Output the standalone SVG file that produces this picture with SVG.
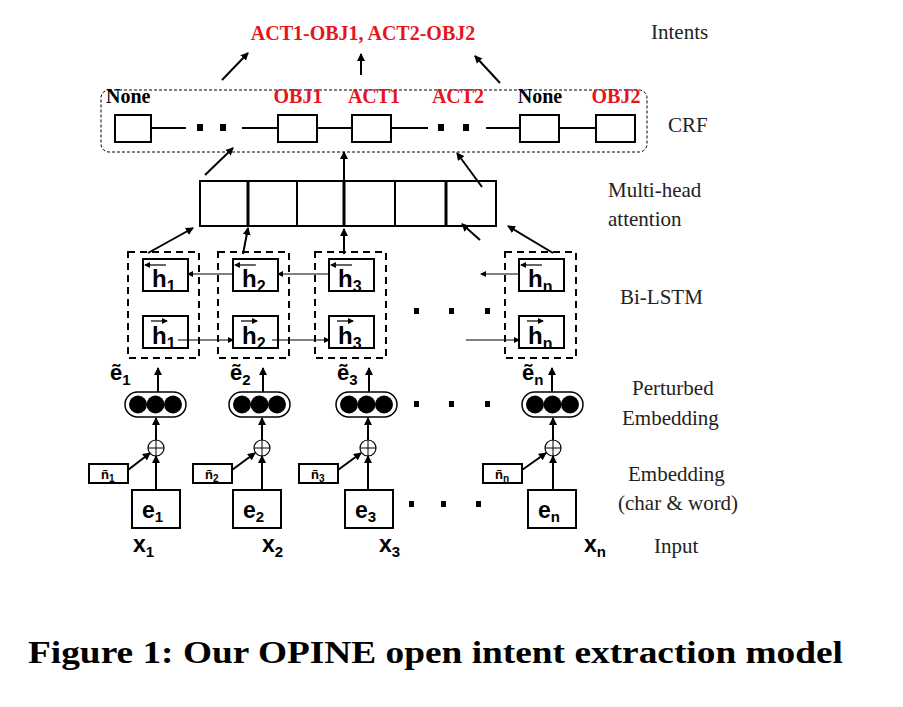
<svg xmlns="http://www.w3.org/2000/svg" width="903" height="707" viewBox="0 0 903 707">
<defs>
<marker id="a" markerWidth="8" markerHeight="8" refX="7" refY="4" orient="auto" markerUnits="userSpaceOnUse"><path d="M0,0 L8,4 L0,8 z" fill="#000"/></marker>
<marker id="s" markerWidth="6" markerHeight="6" refX="5" refY="3" orient="auto" markerUnits="userSpaceOnUse"><path d="M0,0 L6,3 L0,6 z" fill="#000"/></marker>
</defs>
<style>
.b{fill:#fff;stroke:#000;stroke-width:2}
.d{fill:none;stroke:#000;stroke-width:2;stroke-dasharray:7,5}
.l{stroke:#000;stroke-width:2;fill:none}
.ar{stroke:#000;stroke-width:2;fill:none;marker-end:url(#a)}
.th{stroke:#000;stroke-width:1.2;fill:none;marker-end:url(#s)}
.crf{font-family:"Liberation Serif",serif;font-weight:bold;font-size:20px}
.red{fill:#e8141c}
.sf{font-family:"Liberation Sans",Arial,sans-serif;font-weight:bold}
.lab{font-family:"Liberation Serif",serif;font-size:21px;fill:#222}
.dot{fill:#000}
</style>
<rect width="903" height="707" fill="#fff"/>
<g id="intents"><text class="crf red" x="363" y="40" text-anchor="middle">ACT1-OBJ1, ACT2-OBJ2</text></g>
<g id="crf">
<rect x="101" y="90" width="546" height="62" rx="8" fill="none" stroke="#000" stroke-width="1" stroke-dasharray="3,2"/>
<text class="crf" x="106" y="103">None</text>
<text class="crf red" x="298" y="103" text-anchor="middle">OBJ1</text>
<text class="crf red" x="374" y="103" text-anchor="middle">ACT1</text>
<text class="crf red" x="458" y="103" text-anchor="middle">ACT2</text>
<text class="crf" x="540" y="103" text-anchor="middle">None</text>
<text class="crf red" x="616" y="103" text-anchor="middle">OBJ2</text>
<path class="l" d="M151,128H186 M242,128H278 M317,128H352 M391,128H428 M486,128H520 M559,128H596"/>
<rect class="dot" x="197" y="124" width="6" height="7"/><rect class="dot" x="220" y="124" width="6" height="7"/>
<rect class="dot" x="438" y="124" width="6" height="7"/><rect class="dot" x="463" y="124" width="6" height="7"/>
<rect class="b" x="115" y="115" width="36" height="27"/>
<rect class="b" x="278" y="115" width="39" height="27"/>
<rect class="b" x="352" y="115" width="39" height="27"/>
<rect class="b" x="520" y="115" width="39" height="27"/>
<rect class="b" x="596" y="115" width="39" height="27"/>
</g>
<g id="attention">
<rect class="b" x="200" y="181" width="296" height="45"/>
<path class="l" d="M297,181V226 M395,181V226"/>
<path d="M248,181V226 M344,181V226 M446,181V226" stroke="#000" stroke-width="3"/>
</g>
<g id="bilstm">
<rect class="d" x="128" y="252" width="71" height="106"/>
<rect class="d" x="218" y="252" width="71" height="106"/>
<rect class="d" x="315" y="252" width="71" height="106"/>
<rect class="d" x="505" y="252" width="71" height="106"/>
<g class="sf" font-size="24">
<rect class="b" x="143" y="259" width="45" height="32"/><rect class="b" x="233" y="259" width="45" height="32"/><rect class="b" x="329" y="259" width="45" height="32"/><rect class="b" x="519" y="259" width="45" height="32"/>
<rect class="b" x="143" y="316" width="45" height="32"/><rect class="b" x="233" y="316" width="45" height="32"/><rect class="b" x="329" y="316" width="45" height="32"/><rect class="b" x="519" y="316" width="45" height="32"/>
<text x="152" y="287">h<tspan font-size="16" dy="5">1</tspan></text>
<text x="242" y="287">h<tspan font-size="16" dy="5">2</tspan></text>
<text x="338" y="287">h<tspan font-size="16" dy="5">3</tspan></text>
<text x="528" y="287">h<tspan font-size="16" dy="5">n</tspan></text>
<text x="152" y="344">h<tspan font-size="16" dy="5">1</tspan></text>
<text x="242" y="344">h<tspan font-size="16" dy="5">2</tspan></text>
<text x="338" y="344">h<tspan font-size="16" dy="5">3</tspan></text>
<text x="528" y="344">h<tspan font-size="16" dy="5">n</tspan></text>
</g>
<line class="th" x1="166" y1="265" x2="145" y2="265"/><line class="th" x1="256" y1="265" x2="235" y2="265"/><line class="th" x1="352" y1="265" x2="331" y2="265"/><line class="th" x1="542" y1="265" x2="521" y2="265"/>
<line class="th" x1="151" y1="321" x2="167" y2="321"/><line class="th" x1="241" y1="321" x2="257" y2="321"/><line class="th" x1="337" y1="321" x2="353" y2="321"/><line class="th" x1="527" y1="321" x2="543" y2="321"/>
<rect class="dot" x="414" y="308" width="5" height="6"/><rect class="dot" x="449" y="308" width="5" height="6"/><rect class="dot" x="485" y="308" width="5" height="6"/>
</g>
<g id="embeddings">
<g class="sf" font-size="22">
<text x="110" y="380">ẽ<tspan font-size="15" dy="5">1</tspan></text>
<text x="230" y="380">ẽ<tspan font-size="15" dy="5">2</tspan></text>
<text x="337" y="380">ẽ<tspan font-size="15" dy="5">3</tspan></text>
<text x="522" y="380">ẽ<tspan font-size="15" dy="5">n</tspan></text>
</g>
<g fill="#000">
<rect x="125" y="392" width="61" height="25" rx="12.5" fill="none" stroke="#000" stroke-width="1.5"/>
<circle cx="138" cy="404.5" r="9"/><circle cx="155.5" cy="404.5" r="9"/><circle cx="173" cy="404.5" r="9"/>
<rect x="229" y="392" width="61" height="25" rx="12.5" fill="none" stroke="#000" stroke-width="1.5"/>
<circle cx="242" cy="404.5" r="9"/><circle cx="259.5" cy="404.5" r="9"/><circle cx="277" cy="404.5" r="9"/>
<rect x="336" y="392" width="61" height="25" rx="12.5" fill="none" stroke="#000" stroke-width="1.5"/>
<circle cx="349" cy="404.5" r="9"/><circle cx="366.5" cy="404.5" r="9"/><circle cx="384" cy="404.5" r="9"/>
<rect x="522" y="392" width="61" height="25" rx="12.5" fill="none" stroke="#000" stroke-width="1.5"/>
<circle cx="535" cy="404.5" r="9"/><circle cx="552.5" cy="404.5" r="9"/><circle cx="570" cy="404.5" r="9"/>
</g>
<rect class="dot" x="414" y="401" width="5" height="6"/><rect class="dot" x="449" y="401" width="5" height="6"/><rect class="dot" x="485" y="401" width="5" height="6"/>
</g>
<g id="noise">
<g fill="#fff" stroke="#000" stroke-width="1.2">
<circle cx="156" cy="448" r="8"/><circle cx="262" cy="448" r="8"/><circle cx="368" cy="448" r="8"/><circle cx="553" cy="448" r="8"/>
</g>
<path stroke="#000" stroke-width="1" d="M148,448H164M156,440V456 M254,448H270M262,440V456 M360,448H376M368,440V456 M545,448H561M553,440V456"/>
<rect class="b" x="89" y="464" width="39" height="19" stroke-width="1.5"/>
<rect class="b" x="193" y="464" width="39" height="19" stroke-width="1.5"/>
<rect class="b" x="299" y="464" width="39" height="19" stroke-width="1.5"/>
<rect class="b" x="483" y="464" width="39" height="19" stroke-width="1.5"/>
<g class="sf" font-size="13">
<text x="101" y="479">ñ<tspan font-size="10" dy="3">1</tspan></text>
<text x="205" y="479">ñ<tspan font-size="10" dy="3">2</tspan></text>
<text x="311" y="479">ñ<tspan font-size="10" dy="3">3</tspan></text>
<text x="495" y="479">ñ<tspan font-size="10" dy="3">n</tspan></text>
</g>
</g>
<g id="inputs">
<rect class="b" x="132" y="490" width="48" height="38"/>
<rect class="b" x="233" y="490" width="48" height="38"/>
<rect class="b" x="345" y="490" width="48" height="38"/>
<rect class="b" x="528" y="490" width="48" height="38"/>
<g class="sf" font-size="23">
<text x="142" y="518">e<tspan font-size="15" dy="4">1</tspan></text>
<text x="243" y="518">e<tspan font-size="15" dy="4">2</tspan></text>
<text x="355" y="518">e<tspan font-size="15" dy="4">3</tspan></text>
<text x="538" y="518">e<tspan font-size="15" dy="4">n</tspan></text>
<text x="133" y="552">x<tspan font-size="15" dy="5">1</tspan></text>
<text x="262" y="552">x<tspan font-size="15" dy="5">2</tspan></text>
<text x="379" y="552">x<tspan font-size="15" dy="5">3</tspan></text>
<text x="584" y="552">x<tspan font-size="15" dy="5">n</tspan></text>
</g>
<rect class="dot" x="409" y="501" width="5" height="6"/><rect class="dot" x="441" y="501" width="5" height="6"/><rect class="dot" x="476" y="501" width="5" height="6"/>
</g>
<g id="connectors">
<line class="ar" x1="222" y1="80" x2="248" y2="53"/><line class="ar" x1="361" y1="75" x2="361" y2="54"/><line class="ar" x1="500" y1="83" x2="475" y2="56"/>
<line class="ar" x1="205" y1="175" x2="233" y2="148"/><line class="ar" x1="344" y1="184" x2="344" y2="152"/><line class="ar" x1="482" y1="187" x2="457" y2="153"/>
<line class="ar" x1="148" y1="253" x2="193" y2="228"/><line class="ar" x1="243" y1="254" x2="248" y2="228"/><line class="ar" x1="344" y1="254" x2="344" y2="229"/><line class="ar" x1="480" y1="240" x2="462" y2="224"/><line class="ar" x1="553" y1="253" x2="508" y2="226"/>
<line class="th" x1="233" y1="274" x2="188" y2="274"/><line class="th" x1="329" y1="274" x2="278" y2="274"/><line class="th" x1="519" y1="274" x2="481" y2="274"/>
<line class="th" x1="178" y1="340" x2="233" y2="340"/><line class="th" x1="272" y1="340" x2="329" y2="340"/><line class="th" x1="466" y1="340" x2="519" y2="340"/>
<line class="ar" x1="158" y1="392" x2="158" y2="368"/><line class="ar" x1="263" y1="392" x2="263" y2="368"/><line class="ar" x1="369" y1="392" x2="369" y2="368"/><line class="ar" x1="552" y1="392" x2="552" y2="368"/>
<line class="ar" x1="156" y1="440" x2="156" y2="418"/><line class="ar" x1="262" y1="440" x2="262" y2="418"/><line class="ar" x1="368" y1="440" x2="368" y2="418"/><line class="ar" x1="553" y1="440" x2="553" y2="418"/>
<line class="ar" x1="156" y1="490" x2="156" y2="456"/><line class="ar" x1="262" y1="490" x2="262" y2="456"/><line class="ar" x1="368" y1="490" x2="368" y2="456"/><line class="ar" x1="553" y1="490" x2="553" y2="456"/>
<line class="ar" x1="128" y1="470" x2="150" y2="453"/><line class="ar" x1="232" y1="470" x2="255" y2="453"/><line class="ar" x1="338" y1="470" x2="361" y2="453"/><line class="ar" x1="522" y1="470" x2="546" y2="453"/>
</g>
<g id="labels" class="lab">
<text x="651" y="39">Intents</text>
<text x="668" y="132">CRF</text>
<text x="608" y="197">Multi-head</text>
<text x="608" y="226">attention</text>
<text x="620" y="304">Bi-LSTM</text>
<text x="632" y="395">Perturbed</text>
<text x="622" y="425">Embedding</text>
<text x="628" y="481">Embedding</text>
<text x="618" y="510">(char &amp; word)</text>
<text x="654" y="553">Input</text>
</g>
<text x="28" y="663" font-family="Liberation Serif,serif" font-weight="bold" font-size="31" textLength="815" lengthAdjust="spacingAndGlyphs">Figure 1: Our OPINE open intent extraction model</text>
</svg>
